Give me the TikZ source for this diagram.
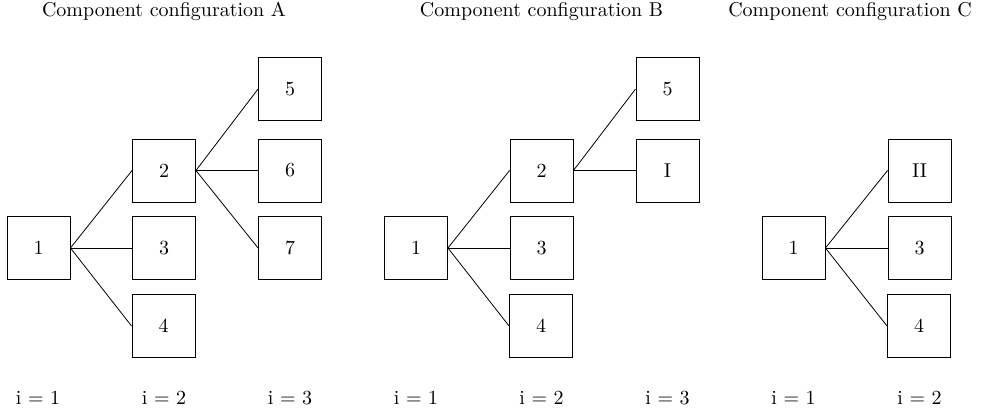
\documentclass[tikz,border=0pt]{standalone}
\begin{document}
\begin{tikzpicture}[x=0.5pt,y=-0.5pt,
  box/.style={draw,line width=0.45pt,minimum size=31.5pt,inner sep=0pt},
  link/.style={line width=0.4pt},
  lbl/.style={anchor=base,inner sep=0pt}]
\useasboundingbox (0,0) rectangle (984,410);
% titles
\node[lbl] (tA) at (164,17) {Component configuration A};
\node[lbl] (tB) at (541.5,17) {Component configuration B};
\node[lbl] (tC) at (850,17) {Component configuration C};
% configuration A
\node[box] (a1) at (38.5,248) {1};
\node[box] (a2) at (164,170.5) {2};
\node[box] (a3) at (164,248) {3};
\node[box] (a4) at (163.5,326) {4};
\node[box] (a5) at (290,89) {5};
\node[box] (a6) at (290,170.5) {6};
\node[box] (a7) at (290,248) {7};
\draw[link] (a1.east) -- (a2.west);
\draw[link] (a1.east) -- (a3.west);
\draw[link] (a1.east) -- (a4.west);
\draw[link] (a2.east) -- (a5.west);
\draw[link] (a2.east) -- (a6.west);
\draw[link] (a2.east) -- (a7.west);
% configuration B
\node[box] (b1) at (416,248) {1};
\node[box] (b2) at (541.5,170.5) {2};
\node[box] (b3) at (541.5,248) {3};
\node[box] (b4) at (541,326) {4};
\node[box] (b5) at (667.5,89) {5};
\node[box] (bI) at (667.5,170.5) {I};
\draw[link] (b1.east) -- (b2.west);
\draw[link] (b1.east) -- (b3.west);
\draw[link] (b1.east) -- (b4.west);
\draw[link] (b2.east) -- (b5.west);
\draw[link] (b2.east) -- (bI.west);
% configuration C
\node[box] (c1) at (793.5,248) {1};
\node[box] (cII) at (919.5,170.5) {II};
\node[box] (c3) at (919.5,248) {3};
\node[box] (c4) at (919,326) {4};
\draw[link] (c1.east) -- (cII.west);
\draw[link] (c1.east) -- (c3.west);
\draw[link] (c1.east) -- (c4.west);
% stage labels
\node[lbl] (iA1) at (38,405) {i = 1};
\node[lbl] (iA2) at (164,405) {i = 2};
\node[lbl] (iA3) at (290,405) {i = 3};
\node[lbl] (iB1) at (416,405) {i = 1};
\node[lbl] (iB2) at (541.5,405) {i = 2};
\node[lbl] (iB3) at (667.5,405) {i = 3};
\node[lbl] (iC1) at (793.5,405) {i = 1};
\node[lbl] (iC2) at (919.5,405) {i = 2};
\end{tikzpicture}
\end{document}
